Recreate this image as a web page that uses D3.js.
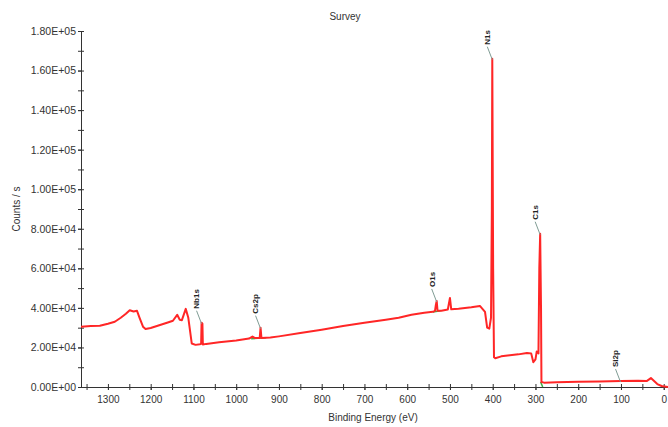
<!DOCTYPE html>
<html>
<head>
<meta charset="utf-8">
<script src="https://cdn.jsdelivr.net/npm/d3@7"></script>
<style>
  body { margin: 0; background: #fff; }
  svg { font-family: "Liberation Sans", Arial, sans-serif; }
  .axis text { font-size: 10px; fill: #333; }
  .axis.yl text { font-size: 10.5px; }
  .axis path, .axis line { stroke: #333; }
  .peak { font-size: 8px; font-weight: bold; fill: #222; }
</style>
</head>
<body>
<div id="chart"></div>
<script>
// survey spectrum
var energy = [1363,1340,1319,1300,1284,1270,1258,1249,1240,1232,1226,1218,1212,1200,1180,1160,1148,1138,1132,1127,1118,1112,1104,1095,1085,1082,1081,1079,1078,1070,1040,1000,970,962,957,945,943,941,920,900,850,800,750,700,650,620,590,560,540,535,533,531,529,520,505,500,497,480,450,430,418,413,408,404,402,401,399,397,394,380,360,340,320,310,305,300,297,293,291,289,287,286,280,250,200,150,100,60,40,30,25,15,5,-10];
var counts = [30500,30800,31000,32000,33000,35000,37000,38800,38200,38500,35000,30500,29300,29800,31200,32600,33500,36500,34000,33800,39500,35000,22000,21300,21600,21800,32500,32000,21500,21800,22600,23500,24500,25500,24800,24800,30000,24800,25000,25600,27300,29000,30800,32500,34000,35000,36500,37500,38000,38500,41500,43500,38500,38600,39200,45000,39300,39600,40300,41000,38000,30000,29500,35000,90000,166000,60000,15000,14500,15500,16000,16500,17200,17000,12500,14000,18000,17000,60000,77500,40000,2500,2200,2400,2600,2800,3000,3200,3000,4500,3500,1500,500,0];

// fit envelope pieces (green), drawn under the trace
var fitEnergy = [[965,930],[540,522],[288,283]];
var fitCounts = [[24400,24900],[37900,38500],[2500,0]];

var peakNames = ["Nb1s","Cs2p","O1s","N1s","C1s","Si2p"];
var peakEnergy = [1081,943,531,401,289,101];
var peakCounts = [32500,30000,43500,166000,77500,3000];

var xTicks = [1300,1200,1100,1000,900,800,700,600,500,400,300,200,100,0];
var yTicks = [0,20000,40000,60000,80000,100000,120000,140000,160000,180000];

var W = 668, H = 427;
var margin = {top: 31, right: 0, bottom: 40, left: 81};

var svg = d3.select("#chart").append("svg")
    .attr("width", W)
    .attr("height", H);

var x = d3.scaleLinear().domain([1363, -10]).range([margin.left, W - margin.right]);
var y = d3.scaleLinear().domain([0, 180000]).range([H - margin.bottom, margin.top]);

function fmt(v) {
  if (v === 0) return "0.00E+00";
  var e = Math.floor(Math.log10(v));
  return (v / Math.pow(10, e)).toFixed(2) + "E+" + (e < 10 ? "0" + e : e);
}

// minor ticks first
svg.append("g")
    .attr("class", "axis")
    .attr("transform", "translate(0," + y(0) + ")")
    .call(d3.axisBottom(x).tickValues(d3.range(1350, -1, -50)).tickSize(3).tickFormat(""))
    .call(function(g) { g.select(".domain").remove(); g.selectAll("line").attr("y1", -3); });

svg.append("g")
    .attr("class", "axis")
    .attr("transform", "translate(" + margin.left + ",0)")
    .call(d3.axisLeft(y).tickValues(d3.range(0, 180001, 10000)).tickSize(3).tickFormat(""))
    .call(function(g) { g.select(".domain").remove(); g.selectAll("line").attr("x1", 3); });

svg.append("g")
    .attr("class", "axis")
    .attr("transform", "translate(0," + y(0) + ")")
    .call(d3.axisBottom(x).tickValues(xTicks).tickSize(3).tickSizeOuter(0).tickPadding(6).tickFormat(d3.format("d")));

svg.append("g")
    .attr("class", "axis yl")
    .attr("transform", "translate(" + margin.left + ",0)")
    .call(d3.axisLeft(y).tickValues(yTicks).tickSize(3).tickSizeOuter(0).tickPadding(2).tickFormat(fmt));

var line = d3.line()
    .x(function(d) { return x(d[0]); })
    .y(function(d) { return y(d[1]); });

fitEnergy.forEach(function(es, i) {
  svg.append("path")
      .datum(es.map(function(e, j) { return [e, fitCounts[i][j]]; }))
      .attr("fill", "none")
      .attr("stroke", "#3cb043")
      .attr("stroke-width", 1.5)
      .attr("d", line);
});

svg.append("path")
    .datum(energy.map(function(e, i) { return [e, counts[i]]; }))
    .attr("fill", "none")
    .attr("stroke", "#ff2626")
    .attr("stroke-width", 2)
    .attr("stroke-linejoin", "round")
    .attr("d", line);

// peak labels with leader lines
var peaks = svg.append("g").selectAll("g")
    .data(peakNames.map(function(n, i) { return {name: n, e: peakEnergy[i], c: peakCounts[i]}; }))
  .enter().append("g");

peaks.append("line")
    .attr("x1", function(d) { return x(d.e) - 5; })
    .attr("y1", function(d) { return y(d.c) - 12; })
    .attr("x2", function(d) { return x(d.e); })
    .attr("y2", function(d) { return y(d.c) + 1; })
    .attr("stroke", "#7f9c94")
    .attr("stroke-width", 1);

peaks.append("text")
    .attr("class", "peak")
    .attr("transform", function(d) { return "translate(" + (x(d.e) - 5) + "," + (y(d.c) - 14) + ") rotate(-90)"; })
    .attr("dy", "0.35em")
    .text(function(d) { return d.name; });

svg.append("text")
    .attr("x", 345).attr("y", 20)
    .attr("text-anchor", "middle")
    .style("font-size", "10px").style("fill", "#333")
    .text("Survey");

svg.append("text")
    .attr("x", 373).attr("y", 421)
    .attr("text-anchor", "middle")
    .style("font-size", "10px").style("fill", "#333")
    .text("Binding Energy (eV)");

svg.append("text")
    .attr("transform", "translate(20,209) rotate(-90)")
    .attr("text-anchor", "middle")
    .style("font-size", "10px").style("fill", "#333")
    .text("Counts / s");
</script>
</body>
</html>
